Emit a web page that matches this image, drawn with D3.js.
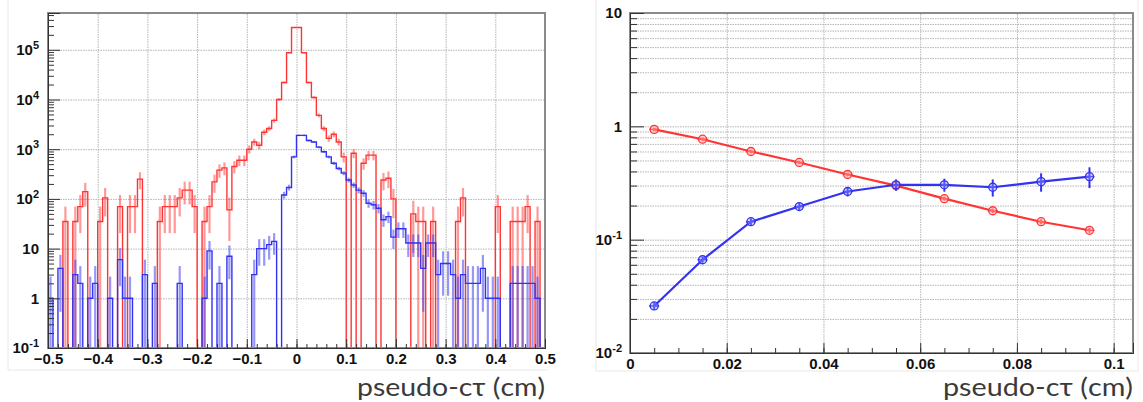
<!DOCTYPE html>
<html lang="en">
<head>
<meta charset="utf-8">
<script src="https://cdn.jsdelivr.net/npm/d3@7"></script>
<title>pseudo-ctau</title>
<style>
  body { margin: 0; background: #fff; }
  .tick text { font: bold 15px "Liberation Sans", Arial, sans-serif; fill: #111; }
  .axis path { stroke: #333; }
  .axis line { stroke: #333; }
  .grid line { stroke: #b4b4b4; stroke-dasharray: 1.5,1; }
  .grid path { display: none; }
  .title { font: 25px Lato, "Open Sans", sans-serif; fill: #3a3a3a; }
</style>
</head>
<body>
<svg width="1143" height="402"></svg>
<script>
// ---- left: histogram, 100 bins from -0.5 to 0.5 ----
var histRange = [-0.5, 0.5];
var redCounts = [
  0, 0, 0, 35, 0, 35, 70, 140, 0, 0,
  35, 105, 0, 0, 70, 0, 70, 70, 250, 0,
  0, 0, 35, 70, 70, 70, 105, 150, 150, 70,
  0, 35, 70, 220, 380, 420, 60, 450, 600, 600,
  1000, 1400, 1200, 2200, 2600, 3800, 10000, 22000, 87000, 280000,
  280000, 87000, 22000, 11000, 4800, 2600, 1650, 2000, 1400, 700,
  0, 830, 0, 520, 760, 760, 0, 240, 260, 100,
  0, 0, 0, 50, 35, 35, 0, 35, 0, 0,
  0, 0, 35, 105, 0, 0, 0, 0, 0, 0,
  70, 0, 0, 35, 35, 35, 70, 0, 35, 0
];
var blueCounts = [
  1, 0, 4, 0, 0, 3, 2, 0, 1, 2,
  0, 0, 1, 0, 6, 1, 1, 0, 0, 3,
  0, 2, 0, 0, 0, 0, 2, 0, 0, 0,
  0, 1, 9, 0, 2, 0, 7, 0, 0, 0,
  0, 3, 10, 10, 12, 14, 0, 120, 170, 700,
  1900, 1900, 1500, 1400, 1100, 890, 700, 520, 410, 330,
  240, 190, 150, 130, 82, 76, 65, 38, 44, 17,
  25, 25, 13, 13, 13, 4, 13, 13, 3, 5,
  5, 3, 1, 3, 2, 2, 2, 4, 1, 1,
  1, 0, 0, 2, 2, 2, 2, 2, 1, 0
];
var redWeight = 35, blueWeight = 3;   // event weights, used for the error bars
var histXTicks = [-0.5, -0.4, -0.3, -0.2, -0.1, 0, 0.1, 0.2, 0.3, 0.4, 0.5];
var histYTicks = [0.1, 1, 10, 100, 1000, 10000, 100000];

// ---- right: fractions vs pseudo-ctau ----
var ctCenters = [0.005, 0.015, 0.025, 0.035, 0.045, 0.055, 0.065, 0.075, 0.085, 0.095];
var redFrac  = [0.94, 0.77, 0.60, 0.48, 0.376, 0.30, 0.23, 0.18, 0.144, 0.121];
var redErr   = [0.03, 0.025, 0.02, 0.016, 0.013, 0.011, 0.009, 0.008, 0.007, 0.006];
var blueFrac = [0.026, 0.0665, 0.144, 0.196, 0.266, 0.305, 0.305, 0.29, 0.325, 0.36];
var blueErr  = [0.002, 0.004, 0.01, 0.015, 0.025, 0.035, 0.04, 0.05, 0.06, 0.075];
var fracXTicks = [0, 0.02, 0.04, 0.06, 0.08, 0.1];
var fracYTicks = [0.01, 0.1, 1, 10];

var RED = "#ff3535", BLUE = "#3232f0";
var svg = d3.select("svg");

function minorsOf(majors) {
  var out = [];
  majors.slice(0, -1).forEach(function(m) {
    for (var k = 2; k < 10; k++) out.push(m * k);
  });
  return out;
}

function powLabels(sel) {
  sel.each(function(d) {
    var t = d3.select(this);
    var e = Math.round(Math.log10(d));
    t.text(null);
    if (e === 0) { t.text("1"); return; }
    if (e === 1) { t.text("10"); return; }
    t.append("tspan").text("10");
    t.append("tspan").attr("dy", "-0.55em").style("font-size", "11px").text(e);
  });
}

function canvasBorder(x0, x1, y1) {
  svg.append("path")
    .attr("d", "M" + x0 + ",0V" + y1 + "H" + x1)
    .attr("fill", "none").attr("stroke", "#e8e8e8");
}

canvasBorder(8, 548, 370);
canvasBorder(596, 1138, 371);
svg.append("line").attr("x1", 1138).attr("x2", 1138).attr("y1", 0).attr("y2", 371).attr("stroke", "#ececec");

// =================== left panel ===================
var L = {left: 48, right: 545, top: 13, bottom: 348};
var xL = d3.scaleLinear().domain(histRange).range([L.left, L.right]);
var yL = d3.scaleLog().domain([0.1, 5.5e5]).range([L.bottom, L.top]).clamp(true);
var gL = svg.append("g");

gL.append("g").attr("class", "grid")
  .attr("transform", "translate(0," + L.bottom + ")")
  .call(d3.axisBottom(xL).tickValues(histXTicks.slice(1, -1)).tickSize(-(L.bottom - L.top)).tickFormat(""));
gL.append("g").attr("class", "grid")
  .attr("transform", "translate(" + L.left + ",0)")
  .call(d3.axisLeft(yL).tickValues(histYTicks.slice(1)).tickSize(-(L.right - L.left)).tickFormat(""));

var nBins = redCounts.length;
var bw = (histRange[1] - histRange[0]) / nBins;

function drawHist(counts, weight, color) {
  var g = gL.append("g");
  // error bars first, drawn lighter so they read as the pale bands of the original
  g.selectAll("line").data(counts.map(function(v, i) { return {v: v, i: i}; })
      .filter(function(d) { return d.v > 0; }))
    .enter().append("line")
      .attr("x1", function(d) { return xL(histRange[0] + (d.i + 0.5) * bw); })
      .attr("x2", function(d) { return xL(histRange[0] + (d.i + 0.5) * bw); })
      .attr("y1", function(d) { var e = Math.sqrt(d.v * weight); return d.v - e > 0 ? yL(d.v - e) : L.bottom; })
      .attr("y2", function(d) { return yL(d.v + Math.sqrt(d.v * weight)); })
      .attr("stroke", color).attr("stroke-width", 2.2).attr("opacity", 0.5);

  var path = d3.path();
  path.moveTo(xL(histRange[0]), L.bottom);
  counts.forEach(function(v, i) {
    var yy = v > 0 ? yL(v) : L.bottom;
    path.lineTo(xL(histRange[0] + i * bw), yy);
    path.lineTo(xL(histRange[0] + (i + 1) * bw), yy);
  });
  path.lineTo(xL(histRange[1]), L.bottom);
  g.append("path").attr("d", path.toString())
    .attr("fill", "none").attr("stroke", color).attr("stroke-width", 1.4);
}
drawHist(redCounts, redWeight, RED);
drawHist(blueCounts, blueWeight, BLUE);

gL.append("rect")
  .attr("x", L.left).attr("y", L.top)
  .attr("width", L.right - L.left).attr("height", L.bottom - L.top)
  .attr("fill", "none").attr("stroke", "#8a8a8a").attr("stroke-width", 2);

gL.append("g").attr("class", "axis")
  .attr("transform", "translate(0," + L.bottom + ")")
  .call(d3.axisBottom(xL).tickValues(d3.range(-0.48, 0.5, 0.02)).tickSize(-4).tickFormat(""));
gL.append("g").attr("class", "axis")
  .attr("transform", "translate(0," + L.bottom + ")")
  .call(d3.axisBottom(xL).tickValues(histXTicks).tickSize(-9).tickPadding(5)
    .tickFormat(function(d) { return d === 0 ? "0" : d3.format(".1f")(d); }));
gL.append("g").attr("class", "axis")
  .attr("transform", "translate(" + L.left + ",0)")
  .call(d3.axisLeft(yL).tickValues(minorsOf(histYTicks.concat([1e6])).filter(function(v) { return v < 5.5e5; }))
    .tickSize(-6).tickFormat(""));
gL.append("g").attr("class", "axis")
  .attr("transform", "translate(" + L.left + ",0)")
  .call(d3.axisLeft(yL).tickValues(histYTicks).tickSize(-12).tickPadding(9))
  .selectAll("text").call(powLabels);

svg.append("text").attr("class", "title")
  .attr("x", 545).attr("y", 396).attr("text-anchor", "end")
  .attr("textLength", 188).attr("lengthAdjust", "spacingAndGlyphs")
  .text("pseudo-c\u03c4 (cm)");

// =================== right panel ===================
var R = {left: 630, right: 1133, top: 13, bottom: 353};
var xR = d3.scaleLinear().domain([0, 0.104]).range([R.left, R.right]);
var yR = d3.scaleLog().domain([0.01, 10]).range([R.bottom, R.top]);
var gR = svg.append("g");

gR.append("g").attr("class", "grid")
  .attr("transform", "translate(0," + R.bottom + ")")
  .call(d3.axisBottom(xR).tickValues(fracXTicks.slice(1)).tickSize(-(R.bottom - R.top)).tickFormat(""));
gR.append("g").attr("class", "grid")
  .attr("transform", "translate(" + R.left + ",0)")
  .call(d3.axisLeft(yR).tickValues(minorsOf(fracYTicks).concat(fracYTicks.slice(1, -1)))
    .tickSize(-(R.right - R.left)).tickFormat(""));

var line = d3.line().x(function(d) { return xR(d[0]); }).y(function(d) { return yR(d[1]); });

function drawGraph(vals, errs, color, fill) {
  var pts = ctCenters.map(function(c, i) { return [c, vals[i], errs[i]]; });
  var g = gR.append("g");
  g.append("path").datum(pts).attr("d", line)
    .attr("fill", "none").attr("stroke", color).attr("stroke-width", 2.2);
  g.selectAll(".eb").data(pts).enter().append("line")
    .attr("x1", function(d) { return xR(d[0]); }).attr("x2", function(d) { return xR(d[0]); })
    .attr("y1", function(d) { return yR(d[1] - d[2]); }).attr("y2", function(d) { return yR(d[1] + d[2]); })
    .attr("stroke", color).attr("stroke-width", 2);
  g.selectAll(".hb").data(pts).enter().append("line")
    .attr("x1", function(d) { return xR(d[0]) - 5; }).attr("x2", function(d) { return xR(d[0]) + 5; })
    .attr("y1", function(d) { return yR(d[1]); }).attr("y2", function(d) { return yR(d[1]); })
    .attr("stroke", color).attr("stroke-width", 1.5);
  g.selectAll("circle").data(pts).enter().append("circle")
    .attr("cx", function(d) { return xR(d[0]); }).attr("cy", function(d) { return yR(d[1]); })
    .attr("r", 4).attr("fill", fill).attr("stroke", color).attr("stroke-width", 1.3);
}
drawGraph(redFrac, redErr, RED, "rgba(255,160,160,0.5)");
drawGraph(blueFrac, blueErr, BLUE, "rgba(150,150,255,0.4)");

gR.append("rect")
  .attr("x", R.left).attr("y", R.top)
  .attr("width", R.right - R.left).attr("height", R.bottom - R.top)
  .attr("fill", "none").attr("stroke", "#8a8a8a").attr("stroke-width", 2);

gR.append("g").attr("class", "axis")
  .attr("transform", "translate(0," + R.bottom + ")")
  .call(d3.axisBottom(xR).tickValues(d3.range(0.005, 0.104, 0.005)).tickSize(-5).tickFormat(""));
gR.append("g").attr("class", "axis")
  .attr("transform", "translate(0," + R.bottom + ")")
  .call(d3.axisBottom(xR).tickValues(fracXTicks).tickSize(-10).tickPadding(5)
    .tickFormat(function(d) { return d === 0 ? "0" : String(+d.toFixed(2)); }));
gR.append("g").attr("class", "axis")
  .attr("transform", "translate(" + R.left + ",0)")
  .call(d3.axisLeft(yR).tickValues(minorsOf(fracYTicks)).tickSize(-7).tickFormat(""));
gR.append("g").attr("class", "axis")
  .attr("transform", "translate(" + R.left + ",0)")
  .call(d3.axisLeft(yR).tickValues(fracYTicks).tickSize(-14).tickPadding(8))
  .selectAll("text").call(powLabels);

svg.append("text").attr("class", "title")
  .attr("x", 1133).attr("y", 396).attr("text-anchor", "end")
  .attr("textLength", 190).attr("lengthAdjust", "spacingAndGlyphs")
  .text("pseudo-c\u03c4 (cm)");
</script>
</body>
</html>
